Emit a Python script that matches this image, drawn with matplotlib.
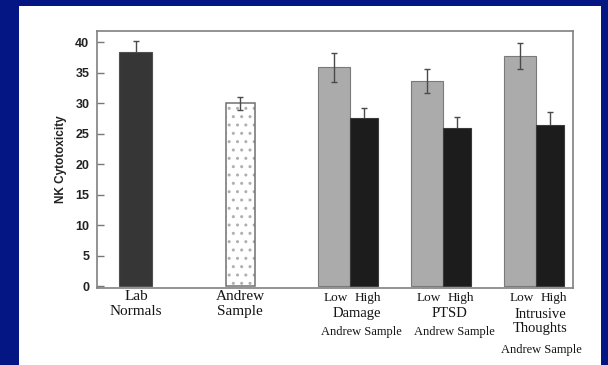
import matplotlib
matplotlib.use('Agg')
import matplotlib.pyplot as plt
from matplotlib.patches import Rectangle

# Data
single_labels = ['Lab\nNormals', 'Andrew\nSample']
single_values = [38.4, 30.0]
single_errors = [1.8, 1.1]

groups = ['Damage', 'PTSD', 'Intrusive\nThoughts']
low_values = [35.9, 33.7, 37.8]
low_errors = [2.4, 2.0, 2.1]
high_values = [27.6, 25.9, 26.4]
high_errors = [1.7, 1.85, 2.1]

yticks = [0, 5, 10, 15, 20, 25, 30, 35, 40]

# layout (x units: one bar ~ 1)
single_x = [1.3, 4.78]
group_x = [8.4, 11.5, 14.6]

fig = plt.figure(figsize=(6.08, 3.65), dpi=100)
fig.patch.set_facecolor('#031683')
fig.patches.append(Rectangle((18.7 / 608, 0), (600.7 - 18.7) / 608, 1 - 6 / 365,
                             transform=fig.transFigure, facecolor='white',
                             edgecolor='none', zorder=-10))

ax = fig.add_axes([97 / 608, 1 - 288 / 365, (572.7 - 97) / 608, (288 - 30.7) / 365])
ax.set_facecolor('white')

ebar = dict(ecolor='#4a4a4a', elinewidth=1.0, capsize=2.2, capthick=1.0, fmt='none')

# Lab normals (dark) and Andrew sample (dotted)
ax.bar(single_x[0], single_values[0], width=1.1, color='#363636',
       edgecolor='#505050', linewidth=0.8, zorder=2)
ax.errorbar(single_x[0], single_values[0], yerr=single_errors[0], zorder=1, **ebar)
# dotted fill drawn with light hatch, outline drawn separately
ax.bar(single_x[1], single_values[1], width=0.97, color='white',
       edgecolor='#b0b0b0', linewidth=0, hatch='..', zorder=2)
ax.bar(single_x[1], single_values[1], width=0.97, fill=False,
       edgecolor='#707070', linewidth=1.1, zorder=2)
ax.errorbar(single_x[1], single_values[1], yerr=single_errors[1], zorder=3, **ebar)

low_x = [c - 0.5 for c in group_x]
high_x = [c + 0.5 for c in group_x]
ax.bar(low_x, low_values, width=1.05, color='#ababab', edgecolor='#7a7a7a',
       linewidth=0.8, zorder=2)
ax.errorbar(low_x, low_values, yerr=low_errors, zorder=3, **ebar)
ax.bar(high_x, high_values, width=0.95, color='#1c1c1c', edgecolor='#3a3a3a',
       linewidth=0.8, zorder=2)
ax.errorbar(high_x, high_values, yerr=high_errors, zorder=1, **ebar)

ax.set_xlim(0, 15.86)
ax.set_ylim(-0.25, 41.9)
ax.set_xticks([])
ax.set_yticks(yticks)
ax.set_yticklabels([str(t) for t in yticks], fontfamily='Liberation Sans',
                   fontweight='bold', fontsize=9, color='#222222')
ax.tick_params(axis='y', direction='in', length=5, width=1, color='#777777', pad=5.5)
for s in ax.spines.values():
    s.set_color('#808080')
    s.set_linewidth(1.2)

ax.set_ylabel('NK Cytotoxicity', fontfamily='Liberation Sans', fontweight='bold',
              fontsize=8.5, color='#222222', labelpad=6)

tr = ax.get_xaxis_transform()
serif = 'Liberation Serif'
txt = '#151515'
for x, lab in zip(single_x, single_labels):
    ax.text(x, -0.062, lab, transform=tr, ha='center', va='center', fontsize=11,
            fontfamily=serif, color=txt, linespacing=1.2)

for c, g in zip(group_x, groups):
    ax.text(c - 0.43, -0.039, 'Low', transform=tr, ha='center', va='center',
            fontsize=9.5, fontfamily=serif, color=txt)
    ax.text(c + 0.64, -0.039, 'High', transform=tr, ha='center', va='center',
            fontsize=9.5, fontfamily=serif, color=txt)
    if '\n' in g:
        ax.text(c + 0.19, -0.13, g, transform=tr, ha='center', va='center',
                fontsize=10.5, fontfamily=serif, color=txt, linespacing=1.1)
        ax.text(c + 0.23, -0.241, 'Andrew Sample', transform=tr, ha='center',
                va='center', fontsize=9, fontfamily=serif, color=txt)
    else:
        ax.text(c + 0.25, -0.101, g, transform=tr, ha='center', va='center',
                fontsize=10.5, fontfamily=serif, color=txt)
        ax.text(c + 0.4, -0.171, 'Andrew Sample', transform=tr, ha='center',
                va='center', fontsize=9, fontfamily=serif, color=txt)

fig.savefig('out.png', dpi=100, facecolor=fig.get_facecolor())
